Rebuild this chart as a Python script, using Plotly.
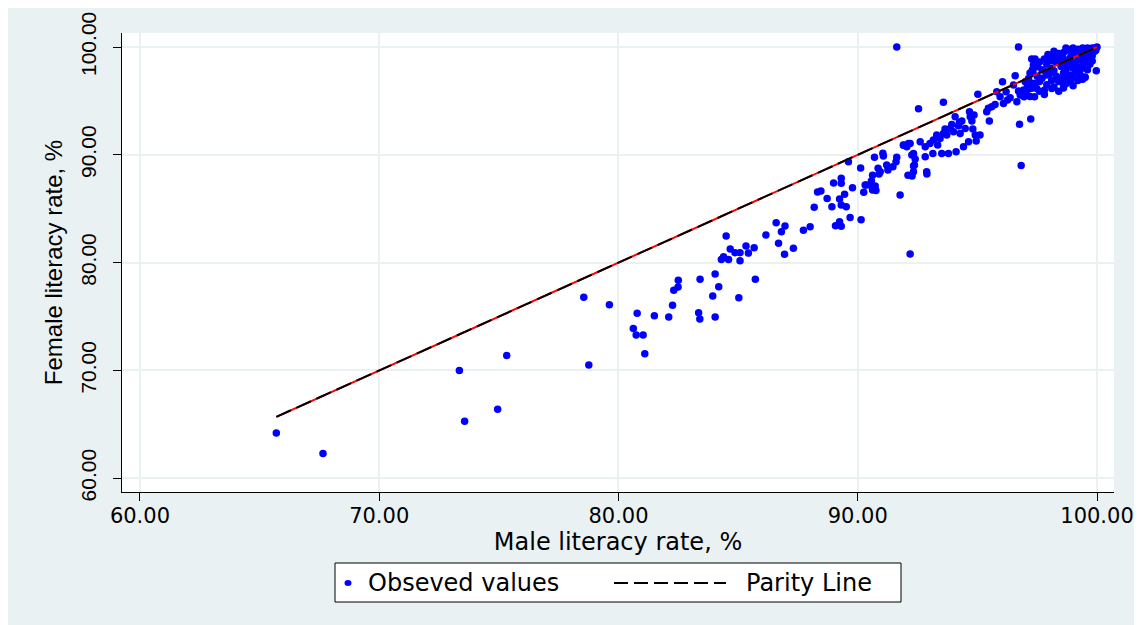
import plotly.graph_objects as go

# ---- data: (male literacy %, female literacy %) ----
male = [
    65.7, 67.65, 73.35, 73.57, 74.95, 75.33, 78.55, 78.76, 79.62, 80.78, 80.62, 80.74, 81.03, 81.1,
    81.5, 82.1, 82.26, 82.31, 82.49, 82.5, 83.35, 83.4, 83.41, 83.94, 84.04, 84.04, 84.19, 85.03, 85.72,
    84.3, 84.39, 84.6, 84.67, 84.5, 84.87, 85.08, 85.08, 85.33, 85.43, 85.67, 86.16, 86.59, 86.69, 86.81,
    86.96, 86.94, 87.31, 87.73, 88.01, 88.18, 88.32, 88.46, 88.72, 88.92, 88.99, 89.31, 89.31, 89.24,
    89.45, 89.31, 89.52, 89.07, 89.24, 89.31, 89.68, 89.78, 89.61, 90.12, 90.14, 90.25, 90.35, 90.57,
    90.62, 90.73, 90.76, 90.62, 90.7, 90.85, 90.89, 90.94, 91.05, 91.07, 91.26, 91.47, 91.6, 91.63,
    91.77, 92.19, 92.1,
    90.31, 90.59, 91.21, 92.26, 92.33, 92.27, 92.54, 92.89, 92.12, 91.91,
    91.63, 96.72, 96.83, 96.76, 97.23,
    91.91, 92.05, 92.19, 92.33, 92.40, 92.37, 92.33, 92.61, 92.82, 92.82, 92.88, 93.02, 93.16, 93.14,
    93.30, 93.34, 93.44, 93.51, 93.58, 93.65, 93.72, 93.79, 93.86, 93.93, 94.0, 94.07, 94.11, 94.21,
    94.25, 94.28, 94.35, 94.42, 94.49, 94.63, 94.67, 94.70, 94.77, 94.81, 94.86, 94.91, 94.95, 95.11,
    95.39, 95.46, 95.50, 95.60, 95.74, 95.81, 95.95, 96.09, 96.20, 96.26, 96.37, 96.51, 96.58, 96.65,
    96.72, 96.79, 96.93, 96.95, 97.0, 97.04, 97.14, 97.21, 97.27, 97.32, 97.39, 97.41, 97.48, 97.51,
    93.58, 95.02, 96.05, 97.27, 97.41, 97.34,
    97.1, 97.2, 97.3, 97.4, 97.0, 97.2, 97.4, 97.5, 97.3, 97.1,
    97.6, 97.7, 97.8, 97.6, 97.9, 97.7, 97.8, 97.9, 97.6, 98.0, 97.8, 97.9,
    98.1, 98.2, 98.3, 98.1, 98.4, 98.2, 98.3, 98.5, 98.4, 98.0, 98.2, 98.3, 98.4, 98.1, 98.5,
    98.6, 98.7, 98.8, 98.6, 98.9, 98.7, 98.8, 98.9, 98.6, 98.7, 98.8, 98.9, 98.6, 98.7, 98.9, 98.8,
    99.0, 99.1, 99.2, 99.3, 99.4, 99.0, 99.1, 99.2, 99.3, 99.4, 99.0, 99.1, 99.2, 99.3, 99.4, 99.5,
    99.0, 99.2, 99.4,
    99.6, 99.7, 99.8, 99.9, 99.6, 99.7, 99.8, 99.5, 99.9, 100.0, 99.6, 99.8, 99.7, 99.5, 99.97, 99.5,
    98.11, 98.6, 98.39, 98.88, 99.43, 97.85, 98.25, 98.55, 99.05, 99.25, 99.65, 99.85, 98.45, 98.95,
    99.15, 99.35, 99.55, 99.75, 98.05, 98.35, 98.65, 99.95, 97.95, 98.15,
]
female = [
    64.2, 62.3, 70.0, 65.3, 66.4, 71.4, 76.8, 70.5, 76.1, 75.3, 73.9, 73.3, 73.3, 71.55,
    75.07, 74.95, 76.04, 77.43, 77.74, 78.36, 75.35, 74.77, 78.45, 76.9, 78.94, 74.95, 77.76, 76.74, 78.45,
    80.3, 80.55, 80.3, 81.26, 82.47, 80.92, 80.92, 80.18, 81.54, 80.89, 81.38, 82.56, 83.7, 81.8, 82.87,
    83.4, 80.77, 81.33, 83.0, 83.33, 85.13, 86.55, 86.64, 85.96, 85.19, 87.38, 87.82, 87.36, 85.9,
    86.34, 85.34, 85.19, 83.42, 83.8, 83.37, 84.2, 86.95, 89.36, 88.78, 83.98, 86.52, 87.2, 87.57,
    88.1, 87.1, 86.7, 86.73, 89.77, 88.75, 88.22, 88.43, 90.14, 89.89, 88.59, 88.9, 89.36, 89.77,
    86.27, 80.8, 88.1,
    87.2, 87.04, 89.05, 89.98, 88.96, 88.03, 94.28, 88.22, 91.06, 90.88,
    100.0, 100.0, 89.0, 92.83, 93.32,
    90.91, 90.75, 91.06, 90.13, 89.61, 89.05, 88.43, 91.22, 90.75, 89.82, 88.43, 91.06, 91.37, 90.13,
    91.83, 90.91, 91.52, 90.13, 91.99, 92.39, 91.83, 90.13, 92.45, 92.82, 92.14, 93.53, 90.29, 92.70,
    93.01, 91.99, 93.13, 90.75, 92.45, 91.22, 93.99, 93.53, 93.13, 92.39, 93.69, 91.83, 91.28, 91.83,
    93.99, 94.31, 93.13, 94.46, 94.68, 95.85, 95.39, 94.77, 95.85, 95.08, 95.30, 96.47, 97.34, 94.93,
    95.92, 95.54, 96.01, 95.39, 96.78, 95.70, 97.09, 96.16, 96.63, 97.71, 95.39, 96.63, 96.16, 98.17,
    94.87, 95.61, 96.78, 98.88, 98.88, 98.33,
    96.9, 97.6, 96.2, 98.2, 95.9, 95.4, 96.6, 97.3, 97.9, 96.4,
    98.6, 97.1, 96.0, 96.8, 98.4, 97.9, 95.6, 97.4, 95.9, 98.9, 98.9, 96.5,
    99.2, 97.8, 98.6, 96.9, 99.4, 96.3, 97.3, 98.2, 95.9, 97.5, 99.6, 99.0, 96.8, 98.0, 97.0,
    99.5, 98.8, 99.7, 97.6, 99.1, 96.6, 98.3, 97.4, 98.4, 99.9, 96.9, 99.8, 96.2, 97.9, 98.6, 97.1,
    99.9, 99.4, 99.8, 99.1, 99.9, 98.5, 97.9, 98.8, 97.4, 98.3, 97.2, 99.7, 96.9, 99.6, 98.9, 99.8,
    96.4, 97.6, 97.0,
    99.9, 99.5, 99.9, 99.6, 98.9, 98.4, 99.2, 97.2, 99.9, 100.0, 97.9, 98.7, 99.8, 98.6, 97.8, 97.2,
    96.16, 96.47, 97.09, 96.78, 97.18, 97.7, 98.9, 99.1, 99.3, 99.5, 99.4, 99.6, 98.5, 98.1,
    98.2, 98.0, 99.2, 99.0, 97.6, 98.8, 97.3, 99.7, 99.3, 98.7,
]

parity_x = [min(male), 100.0]
x_ticks = [60, 70, 80, 90, 100]
y_ticks = [60, 70, 80, 90, 100]
series_names = ["Obseved values", "Parity Line"]

BG = "#e9f1f3"
SANS = "Liberation Sans, Arial, sans-serif"
WIDE = "DejaVu Sans, Verdana, sans-serif"

W, H = 1142, 625
ML, MR, MT, MB = 114, 36, 25, 141
PW, PH = W - ML - MR, H - MT - MB


def px(fx):   # figure pixel x -> paper x
    return (fx - ML) / PW


def py(fy):   # figure pixel y -> paper y
    return (H - MB - fy) / PH


fig = go.Figure()
fig.add_trace(go.Scatter(
    x=male, y=female, mode="markers", name=series_names[0], showlegend=False,
    marker=dict(color="#0000ff", size=7.5, line=dict(width=0)),
))
fig.add_trace(go.Scatter(
    x=parity_x, y=parity_x, mode="lines", showlegend=False,
    line=dict(color="#ff0000", width=2), hoverinfo="skip",
))
fig.add_trace(go.Scatter(
    x=parity_x, y=parity_x, mode="lines", name=series_names[1], showlegend=False,
    line=dict(color="#000000", width=2, dash="16px,6px"),
))

# legend box (drawn by hand to get Stata's long dashed key)
LEG_Y = 575
shapes = [
    dict(type="rect", xref="paper", yref="paper", x0=px(327), x1=px(893),
         y0=py(594), y1=py(555), fillcolor="white", line=dict(color="black", width=1)),
    dict(type="circle", xref="paper", yref="paper", x0=px(336.5), x1=px(343.5),
         y0=py(LEG_Y + 3), y1=py(LEG_Y - 3), fillcolor="#0000ff", line=dict(width=0)),
    dict(type="line", xref="paper", yref="paper", x0=px(606), x1=px(718),
         y0=py(LEG_Y), y1=py(LEG_Y), line=dict(color="black", width=2, dash="14px,6px")),
]
annotations = [
    dict(xref="paper", yref="paper", x=px(358), y=py(LEG_Y), xanchor="left", yanchor="middle",
         text=series_names[0], showarrow=False, font=dict(family=WIDE, size=24, color="black")),
    dict(xref="paper", yref="paper", x=px(736), y=py(LEG_Y), xanchor="left", yanchor="middle",
         text=series_names[1], showarrow=False, font=dict(family=WIDE, size=24, color="black")),
]

fig.update_layout(
    width=W, height=H,
    margin=dict(l=ML, r=MR, t=MT, b=MB, autoexpand=False),
    paper_bgcolor=BG, plot_bgcolor="white",
    font=dict(family=WIDE, size=21, color="black"),
    showlegend=False,
    shapes=shapes, annotations=annotations,
)
fig.update_xaxes(
    range=[59.25, 100.71], tickvals=x_ticks, tickformat=".2f",
    showgrid=True, gridcolor=BG, gridwidth=2, zeroline=False,
    showline=True, linecolor="black", linewidth=1.3,
    ticks="outside", ticklen=8, tickcolor="black", tickwidth=1.3,
    tickfont=dict(family=WIDE, size=21), ticklabelstandoff=-3,
    title=dict(text="Male literacy rate, %", font=dict(family=WIDE, size=24), standoff=0),
)
fig.update_yaxes(
    range=[58.73, 101.3], tickvals=y_ticks, tickformat=".2f", tickangle=-90,
    showgrid=True, gridcolor=BG, gridwidth=2, zeroline=False,
    showline=True, linecolor="black", linewidth=1.3,
    ticks="outside", ticklen=8, tickcolor="black", tickwidth=1.3,
    tickfont=dict(family=SANS, size=21), ticklabelstandoff=8,
    title=dict(text="Female literacy rate, %", font=dict(family=SANS, size=24), standoff=8),
)

fig.write_html("out.html")
